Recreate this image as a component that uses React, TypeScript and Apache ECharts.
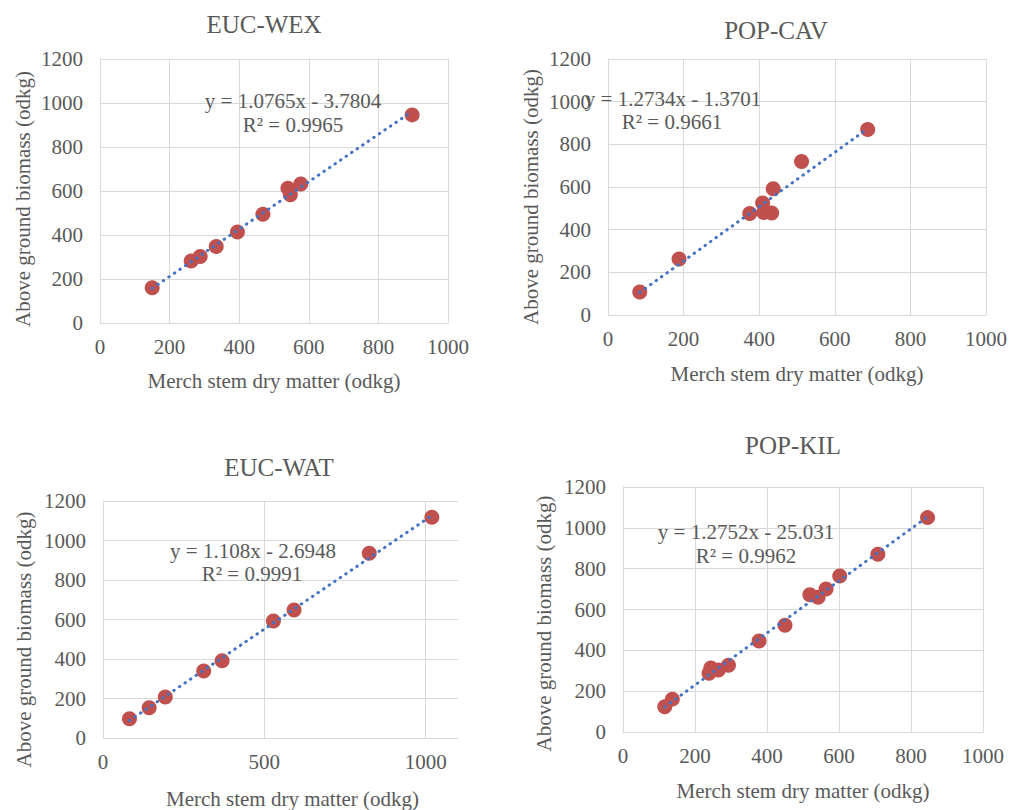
import React, { useEffect, useRef } from "react";
import * as echarts from "echarts";

// ---- data ----
const eucWexX = [150, 262, 288, 334, 395, 468, 540, 547, 577, 897];
const eucWexY = [160, 282, 302, 348, 414, 494, 612, 583, 632, 946];
const eucWexFit = { slope: 1.0765, intercept: -3.7804, r2: "0.9965", eq: "y = 1.0765x - 3.7804" };

const popCavX = [84, 188, 375, 409, 412, 433, 437, 512, 687];
const popCavY = [108, 262, 476, 525, 481, 478, 592, 719, 869];
const popCavFit = { slope: 1.2734, intercept: -1.3701, r2: "0.9661", eq: "y = 1.2734x - 1.3701" };

const eucWatX = [82, 143, 193, 312, 369, 528, 592, 825, 1019];
const eucWatY = [98, 153, 207, 339, 391, 592, 648, 935, 1118];
const eucWatFit = { slope: 1.108, intercept: -2.6948, r2: "0.9991", eq: "y = 1.108x - 2.6948" };

const popKilX = [116, 137, 239, 244, 265, 293, 378, 450, 519, 542, 564, 602, 708, 846];
const popKilY = [124, 161, 288, 314, 304, 327, 446, 523, 672, 660, 700, 764, 871, 1050];
const popKilFit = { slope: 1.2752, intercept: -25.031, r2: "0.9962", eq: "y = 1.2752x - 25.031" };

const titles = ["EUC-WEX", "POP-CAV", "EUC-WAT", "POP-KIL"];
const xName = "Merch stem dry matter (odkg)";
const yName = "Above ground biomass (odkg)";
const yTicks = [0, 200, 400, 600, 800, 1000, 1200];
const xTicks1000 = [0, 200, 400, 600, 800, 1000];
const xTicksWat = [0, 500, 1000];

const FONT = "Liberation Serif";
const TXT = "#595959";
const GRID = "#d9d9d9";
const RED = "#c0504d";
const BLUE = "#4472c4";

const panels = [
  { xs: eucWexX, ys: eucWexY, fit: eucWexFit, grid: { left: 100, top: 59, width: 348, height: 264 }, xMax: 1000, xInt: 200, xTicks: xTicks1000,
    title: [264, 24], eq: [293, 101], r2: [293, 125], xGap: 47, yGap: 67, xPad: [0, 0, 0, 0], yPad: [0, 16, 0, 0] },
  { xs: popCavX, ys: popCavY, fit: popCavFit, grid: { left: 608, top: 59, width: 380, height: 256 }, xMax: 1000, xInt: 200, xTicks: xTicks1000,
    title: [776, 30], eq: [673, 99], r2: [672, 122], xGap: 48, yGap: 67, xPad: [0, 0, 0, 0], yPad: [0, 20, 0, 0] },
  { xs: eucWatX, ys: eucWatY, fit: eucWatFit, grid: { left: 103, top: 501, width: 355, height: 239 }, xMax: 1100, xInt: 500, xTicks: xTicksWat,
    title: [279, 467], eq: [253, 551], r2: [252, 574], xGap: 50, yGap: 69, xPad: [0, 0, 0, 24], yPad: [0, 40, 0, 0] },
  { xs: popKilX, ys: popKilY, fit: popKilFit, grid: { left: 623, top: 487, width: 360, height: 245 }, xMax: 1000, xInt: 200, xTicks: xTicks1000,
    title: [793, 445], eq: [746, 532], r2: [746, 556], xGap: 48, yGap: 69, xPad: [0, 0, 0, 0], yPad: [0, 28, 0, 0] },
];

export default function App() {
  const ref = useRef<HTMLDivElement>(null);
  useEffect(() => {
    if (!ref.current) return;
    const chart = echarts.init(ref.current, undefined, { renderer: "svg" });
    const grids: any[] = [];
    const xAxes: any[] = [];
    const yAxes: any[] = [];
    const series: any[] = [];
    const graphics: any[] = [];
    const fmt = (v: number) => String(v);
    panels.forEach((p, i) => {
      grids.push({ ...p.grid, containLabel: false });
      xAxes.push({
        type: "value", gridIndex: i, min: 0, max: p.xMax, interval: p.xInt,
        name: xName, nameLocation: "middle", nameGap: p.xGap,
        nameTextStyle: { fontFamily: FONT, fontSize: 21, color: TXT, padding: p.xPad },
        axisLine: { show: true, lineStyle: { color: GRID, width: 1 } },
        axisTick: { show: false, customValues: p.xTicks },
        axisLabel: { fontFamily: FONT, fontSize: 21, color: TXT, margin: 13, customValues: p.xTicks, formatter: fmt },
        splitLine: { show: true, lineStyle: { color: GRID, width: 1 } },
      });
      yAxes.push({
        type: "value", gridIndex: i, min: 0, max: 1200, interval: 200,
        name: yName, nameLocation: "middle", nameGap: p.yGap,
        nameTextStyle: { fontFamily: FONT, fontSize: 21, color: TXT, padding: p.yPad },
        axisLine: { show: true, lineStyle: { color: GRID, width: 1 } },
        axisTick: { show: false, customValues: yTicks },
        axisLabel: { fontFamily: FONT, fontSize: 21, color: TXT, margin: 17, customValues: yTicks, formatter: fmt },
        splitLine: { show: true, lineStyle: { color: GRID, width: 1 } },
      });
      series.push({
        type: "scatter", xAxisIndex: i, yAxisIndex: i,
        data: p.xs.map((x, k) => [x, p.ys[k]]),
        symbol: "circle", symbolSize: 15,
        itemStyle: { color: RED, opacity: 1 },
        z: 2,
      });
      const x0 = Math.min(...p.xs);
      const x1 = Math.max(...p.xs);
      series.push({
        type: "line", xAxisIndex: i, yAxisIndex: i,
        data: [[x0, p.fit.slope * x0 + p.fit.intercept], [x1, p.fit.slope * x1 + p.fit.intercept]],
        showSymbol: false, symbol: "none",
        lineStyle: { color: BLUE, width: 3, type: [0.5, 6.2], cap: "round" },
        z: 3, silent: true,
      });
      graphics.push({
        type: "text", x: p.title[0], y: p.title[1],
        style: { text: titles[i], fontFamily: FONT, fontSize: 25, fill: TXT, align: "center", verticalAlign: "middle", textAlign: "center", textVerticalAlign: "middle" },
      });
      graphics.push({
        type: "text", x: p.eq[0], y: p.eq[1], z: 10,
        style: { text: p.fit.eq, fontFamily: FONT, fontSize: 21, fill: TXT, align: "center", verticalAlign: "middle", textAlign: "center", textVerticalAlign: "middle" },
      });
      graphics.push({
        type: "text", x: p.r2[0], y: p.r2[1], z: 10,
        style: { text: "R² = " + p.fit.r2, fontFamily: FONT, fontSize: 21, fill: TXT, align: "center", verticalAlign: "middle", textAlign: "center", textVerticalAlign: "middle" },
      });
    });
    chart.setOption({
      animation: false,
      backgroundColor: "#ffffff",
      textStyle: { fontFamily: FONT },
      grid: grids,
      xAxis: xAxes,
      yAxis: yAxes,
      series,
      graphic: graphics,
    });
    return () => chart.dispose();
  }, []);
  return <div ref={ref} style={{ position: "absolute", left: 0, top: 0, width: 1010, height: 810 }} />;
}
